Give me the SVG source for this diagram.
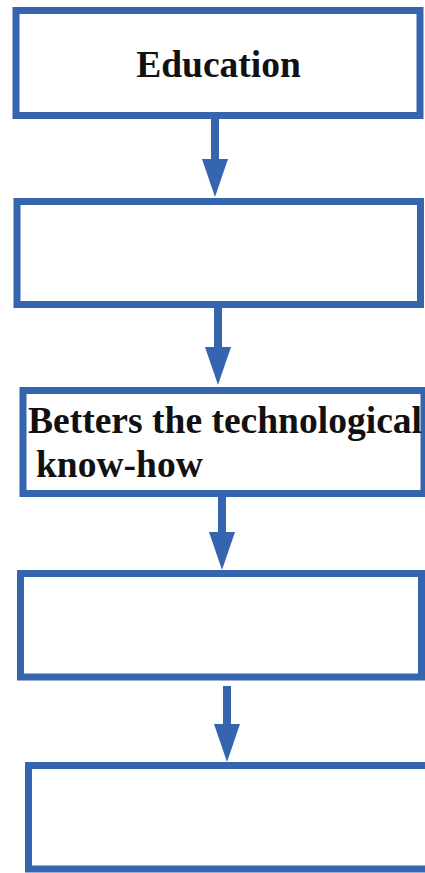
<svg xmlns="http://www.w3.org/2000/svg" width="425" height="873" viewBox="0 0 425 873">
  <style>
    .box { fill: #ffffff; stroke: #3565af; stroke-width: 7; }
    .flow { stroke: #3565af; stroke-width: 8; fill: none; }
    .label { font-family: "Liberation Serif", "Times New Roman", serif; font-weight: bold; font-size: 37.5px; fill: #111111; }
  </style>
  <defs>
    <marker id="arrowhead" markerUnits="userSpaceOnUse" viewBox="0 -13 38 26" markerWidth="38" markerHeight="26" refX="0" refY="0" orient="auto">
      <path d="M0,-13 L38,0 L0,13 z" fill="#3565af"/>
    </marker>
  </defs>
  <rect x="0" y="0" width="425" height="873" fill="#ffffff"/>

  <g id="connectors">
    <line class="flow" x1="215" y1="119" x2="215" y2="159" marker-end="url(#arrowhead)"/>
    <line class="flow" x1="218" y1="308" x2="218" y2="347" marker-end="url(#arrowhead)"/>
    <line class="flow" x1="222" y1="497" x2="222" y2="532" marker-end="url(#arrowhead)"/>
    <line class="flow" x1="227" y1="686" x2="227" y2="724" marker-end="url(#arrowhead)"/>
  </g>

  <g id="node-education">
    <rect class="box" x="16" y="10.5" width="404" height="105"/>
    <text class="label" x="218.5" y="77" text-anchor="middle">Education</text>
  </g>

  <g id="node-2">
    <rect class="box" x="17" y="201.5" width="403.5" height="103"/>
  </g>

  <g id="node-technology">
    <rect class="box" x="23" y="390.5" width="401" height="103"/>
    <text class="label" x="28" y="433" textLength="394" lengthAdjust="spacingAndGlyphs">Betters the technological</text>
    <text class="label" x="36" y="477">know-how</text>
  </g>

  <g id="node-4">
    <rect class="box" x="20.5" y="573.5" width="401" height="103.5"/>
  </g>

  <g id="node-5">
    <rect class="box" x="28.5" y="765.5" width="410" height="103.5"/>
  </g>
</svg>
